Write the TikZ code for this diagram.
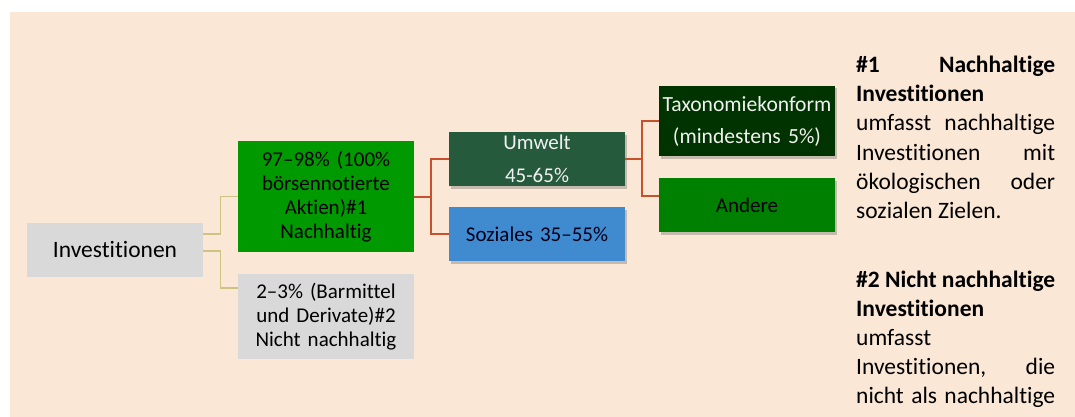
\documentclass[tikz,border=0pt]{standalone}
\usepackage{fontspec}
\setmainfont{Carlito}[Ligatures={NoCommon,NoContextual,NoRare}]
\usetikzlibrary{shadows}
\definecolor{bgpeach}{RGB}{250,231,214}
\definecolor{boxgray}{RGB}{217,217,217}
\definecolor{gmain}{RGB}{0,153,0}
\definecolor{gumwelt}{RGB}{38,90,60}
\definecolor{bsoz}{RGB}{64,139,208}
\definecolor{gtax}{RGB}{0,51,0}
\definecolor{gand}{RGB}{0,128,0}
\definecolor{redline}{RGB}{197,81,45}
\definecolor{oliveline}{RGB}{205,196,132}
\tikzset{
  box/.style={rectangle, inner sep=0pt, minimum width=176pt, align=center, text width=174pt,
    font=\fontsize{21}{24}\selectfont},
  shbox/.style={box, drop shadow={shadow xshift=1.5pt, shadow yshift=-2.5pt, opacity=0.35, fill=black!60}},
  olivecon/.style={draw=oliveline, line width=1.4pt},
  redcon/.style={draw=redline, line width=2pt},
  rtext/.style={anchor=base west, inner sep=0pt, font=\fontsize{23.5}{29}\selectfont},
}
\begin{document}
\begin{tikzpicture}[x=1pt, y=-1pt]
\useasboundingbox (0,0) rectangle (1075,417);
\fill[bgpeach] (10,12) rectangle (1075,417);

\node[box, fill=boxgray, minimum height=54pt, font=\fontsize{23.5}{24}\selectfont] (inv) at (115,250) {Investitionen};
\node[box, fill=gmain, minimum height=111pt] (g1) at (326,196.5) {97–98\% (100\%\\börsennotierte\\Aktien)\#1\\Nachhaltig};
\node[box, fill=boxgray, minimum height=85pt] (g2) at (326,316.5) {2–3\% (Barmittel\\und Derivate)\#2\\Nicht nachhaltig};

\node[shbox, fill=gumwelt, minimum height=54pt, text=white!94!black, font=\fontsize{21}{33}\selectfont] (um) at (537,159) {Umwelt\\45-65\%};
\node[shbox, fill=bsoz, minimum height=54pt, text=black!90!blue] (soz) at (537,234) {Soziales 35–55\%};
\node[shbox, fill=gtax, minimum height=70pt, text=white!94!black, font=\fontsize{21.6}{32}\selectfont] (tax) at (747,121) {Taxonomiekonform\\(mindestens 5\%)};
\node[shbox, fill=gand, minimum height=54pt] (and) at (747,205) {Andere};

\draw[olivecon] ([yshift=16pt]inv.east) -- ++(17,0) |- (g1.west);
\draw[olivecon] ([yshift=-1pt]inv.east) -- ++(17,0) |- ([yshift=28.5pt]g2.west);
\draw[redcon] (g1.east) -- ++(17,0) |- (um.west);
\draw[redcon] (g1.east) -- ++(17,0) |- (soz.west);
\draw[redcon] (um.east) -- ++(17,0) |- (tax.west);
\draw[redcon] (um.east) -- ++(17,0) |- ([yshift=9pt]and.west);

\node[rtext] (t1) at (856,73) {\makebox[199pt][s]{\bfseries \#1 Nachhaltige}};
\node[rtext] (t2) at (856,102) {\bfseries Investitionen};
\node[rtext] (t3) at (856,131) {\makebox[199pt][s]{umfasst nachhaltige}};
\node[rtext] (t4) at (856,160) {\makebox[199pt][s]{Investitionen mit}};
\node[rtext] (t5) at (856,189) {\makebox[199pt][s]{ökologischen oder}};
\node[rtext] (t6) at (856,218) {sozialen Zielen.};
\node[rtext] (t7) at (856,287) {\makebox[199pt][s]{\bfseries \#2 Nicht nachhaltige}};
\node[rtext] (t8) at (856,316) {\bfseries Investitionen};
\node[rtext] (t9) at (856,345) {umfasst};
\node[rtext] (t10) at (856,374) {\makebox[199pt][s]{Investitionen, die}};
\node[rtext] (t11) at (856,403) {\makebox[199pt][s]{nicht als nachhaltige}};
\end{tikzpicture}
\end{document}
